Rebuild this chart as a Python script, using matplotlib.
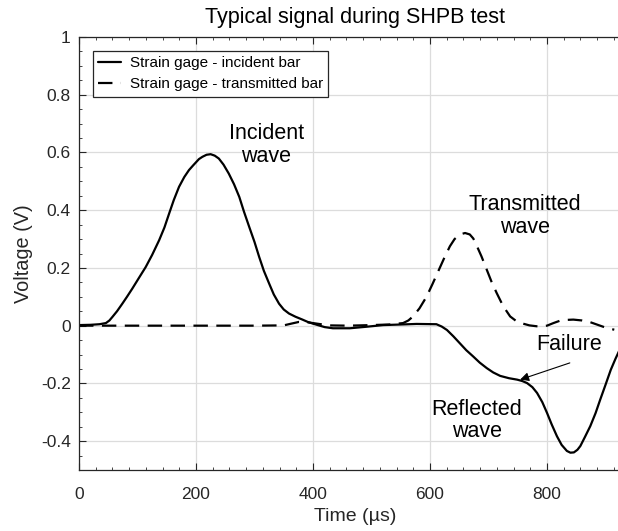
import matplotlib
matplotlib.use("Agg")
import matplotlib.pyplot as plt
from matplotlib.ticker import MultipleLocator, FixedLocator

# ---- data ----
t_inc = [0, 20, 35, 46, 52, 57, 65, 74, 82, 91, 102, 114, 125, 137, 146, 154,
         162, 171, 180, 188, 195, 200, 205, 211, 218, 225, 232, 239, 247, 256,
         265, 274, 282, 291, 300, 308, 316, 325, 333, 342, 350, 359, 370, 382,
         391, 400, 420, 434, 463, 490, 520, 550, 577, 611, 620, 629, 640, 651,
         662, 674, 685, 697, 708, 720, 735, 749, 758, 766, 775, 783, 792, 800,
         808, 817, 825, 834, 840, 846, 852, 857, 865, 874, 883, 891, 900, 909,
         917, 925]
v_inc = [0.002, 0.003, 0.005, 0.009, 0.018, 0.03, 0.05, 0.076, 0.10, 0.128,
         0.164, 0.203, 0.245, 0.296, 0.34, 0.388, 0.435, 0.481, 0.515, 0.539,
         0.555, 0.566, 0.577, 0.585, 0.592, 0.594, 0.589, 0.579, 0.558, 0.527,
         0.49, 0.446, 0.395, 0.342, 0.29, 0.238, 0.19, 0.146, 0.108, 0.076,
         0.056, 0.042, 0.031, 0.021, 0.013, 0.007, -0.005, -0.009, -0.009,
         -0.004, 0.002, 0.004, 0.006, 0.005, -0.003, -0.015, -0.037, -0.061,
         -0.085, -0.107, -0.128, -0.147, -0.162, -0.174, -0.182, -0.187, -0.192,
         -0.199, -0.213, -0.233, -0.265, -0.302, -0.342, -0.383, -0.413, -0.434,
         -0.44, -0.439, -0.43, -0.417, -0.385, -0.348, -0.303, -0.256, -0.205,
         -0.153, -0.115, -0.08]

t_tr = [0, 100, 200, 300, 350, 365, 376, 390, 400, 427, 460, 500, 530, 554, 563,
        571, 582, 594, 604, 614, 624, 634, 642, 651, 660, 668, 674, 679, 688,
        697, 705, 714, 725, 737, 748, 759, 770, 782, 791, 800, 811, 822, 834,
        845, 860, 874, 888, 902, 915]
v_tr = [0, 0, 0, 0, 0.001, 0.008, 0.013, 0.012, 0.009, 0.001, 0.0, 0.002, 0.004,
        0.009, 0.018, 0.032, 0.06, 0.10, 0.143, 0.188, 0.233, 0.275, 0.300,
        0.316, 0.321, 0.316, 0.302, 0.281, 0.24, 0.194, 0.153, 0.113, 0.068,
        0.032, 0.015, 0.007, 0.001, -0.002, -0.002, 0.0, 0.009, 0.017, 0.02,
        0.021, 0.018, 0.012, 0.002, -0.008, -0.014]

x_ticks = [0, 200, 400, 600, 800]
x_ticklabels = ["0", "200", "400", "600", "800"]
y_ticks = [-0.4, -0.2, 0, 0.2, 0.4, 0.6, 0.8, 1.0]
y_ticklabels = ["-0.4", "-0.2", "0", "0.2", "0.4", "0.6", "0.8", "1"]

labels = ["Strain gage - incident bar", "Strain gage - transmitted bar"]
title = "Typical signal during SHPB test"
xlabel = "Time (\u00b5s)"
ylabel = "Voltage (V)"

annotations = [("Incident\nwave", 320, 0.626),
               ("Transmitted\nwave", 762, 0.38),
               ("Failure", 837, -0.066),
               ("Reflected\nwave", 680, -0.328)]
arrow_tip = (754, -0.187)
arrow_tail = (839, -0.129)

# ---- figure ----
plt.rcParams['font.family'] = ['Liberation Sans', 'DejaVu Sans']
dark = '#262626'

fig = plt.figure(figsize=(6.18, 5.31), dpi=100)
W, H = 618, 531
left, right, top, bottom = 79, 631, 37, 470
ax = fig.add_axes([left / W, 1 - bottom / H, (right - left) / W, (bottom - top) / H])

ax.plot(t_inc, v_inc, color='black', lw=1.6, label=labels[0],
        solid_joinstyle='round', solid_capstyle='round')
ax.plot(t_tr, v_tr, color='black', lw=1.6, label=labels[1], dashes=(6.5, 3.8))

ax.set_xlim(0, (right - left) / 0.585)
ax.set_ylim(-0.5, 1.0)

ax.xaxis.set_major_locator(FixedLocator(x_ticks))
ax.set_xticklabels(x_ticklabels)
ax.yaxis.set_major_locator(FixedLocator(y_ticks))
ax.set_yticklabels(y_ticklabels)
ax.xaxis.set_minor_locator(MultipleLocator(200 / 7))
ax.yaxis.set_minor_locator(MultipleLocator(0.05))

ax.tick_params(which='both', direction='in', top=True, right=True, colors=dark)
ax.tick_params(which='major', length=5, width=0.8)
ax.tick_params(which='minor', length=2.5, width=0.6)
ax.tick_params(axis='x', which='major', pad=12, labelsize=12.5)
ax.tick_params(axis='y', which='major', pad=6, labelsize=12.5)

for s in ax.spines.values():
    s.set_color(dark)
    s.set_linewidth(0.9)

ax.grid(True, which='major', color='#dcdcdc', lw=0.9)
ax.set_axisbelow(True)

ax.set_title(title, fontsize=15.5, color='black', pad=10)
ax.set_xlabel(xlabel, fontsize=14, color=dark)
ax.set_ylabel(ylabel, fontsize=14.3, color=dark)
ax.xaxis.set_label_coords(0.5, -(508 - bottom) / (bottom - top))
ax.yaxis.set_label_coords(-(left - 33) / (right - left), 0.5)

leg = ax.legend(loc='upper left', bbox_to_anchor=(14 / (right - left), 1 - 14 / (bottom - top)),
                borderaxespad=0, fontsize=11, frameon=True, fancybox=False,
                edgecolor=dark, framealpha=1, handlelength=1.5, handletextpad=0.55,
                labelspacing=0.45, borderpad=0.35)
leg.get_frame().set_linewidth(0.9)

for txt, x, y in annotations:
    ax.text(x, y, txt, fontsize=15.5, ha='center', va='center', color='black',
            linespacing=1.1)

ax.annotate("", xy=arrow_tip, xytext=arrow_tail,
            arrowprops=dict(arrowstyle='-|>', color='black', lw=0.8,
                            mutation_scale=13, shrinkA=0, shrinkB=0))

fig.savefig("out.png", dpi=100)
